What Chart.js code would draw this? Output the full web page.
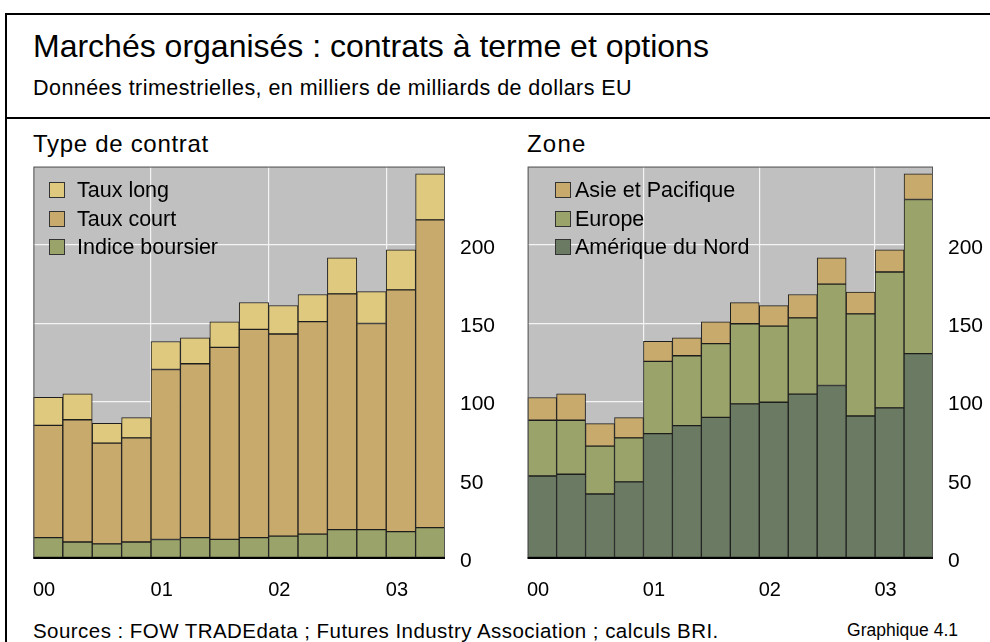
<!DOCTYPE html>
<html>
<head>
<meta charset="utf-8">
<script src="https://cdn.jsdelivr.net/npm/chart.js@4"></script>
<style>
    body { margin: 0; background: #fff; font-family: "Liberation Sans", Arial, sans-serif; color: #000; }
    #page { position: relative; width: 990px; height: 642px; overflow: hidden; }
    .txt { position: absolute; white-space: nowrap; line-height: 1; }
    .ligne { position: absolute; background: #000; }
    canvas { position: absolute; }
    .leg { position: absolute; font-size: 21.5px; line-height: 1; white-space: nowrap; }
    .leg span.box { display: inline-block; width: 14px; height: 14px; border: 1px solid #333; vertical-align: -1px; }
</style>
</head>
<body>
<div id="page">
    <div class="ligne" style="left:5px; top:13px; width:985px; height:2px;"></div>
    <div class="ligne" style="left:5px; top:13px; width:2px; height:629px;"></div>
    <div class="ligne" style="left:5px; top:117px; width:985px; height:2px;"></div>

    <div class="txt" style="left:33px; top:30px; font-size:32px;">Marchés organisés : contrats à terme et options</div>
    <div class="txt" style="left:33px; top:78px; font-size:21.5px; letter-spacing:0.45px;">Données trimestrielles, en milliers de milliards de dollars EU</div>

    <div class="txt" style="left:33px; top:132px; font-size:24px; letter-spacing:0.7px;">Type de contrat</div>
    <div class="txt" style="left:527px; top:132px; font-size:24px; letter-spacing:1.2px;">Zone</div>

    <canvas id="chartType" width="490" height="480"></canvas>
    <canvas id="chartZone" width="490" height="480"></canvas>

    <div id="legType"></div>
    <div id="legZone"></div>

    <div class="txt" style="left:33px; top:621px; font-size:20.5px; letter-spacing:0.45px;">Sources : FOW TRADEdata ; Futures Industry Association ; calculs BRI.</div>
    <div class="txt" style="right:32px; top:622px; font-size:17.5px;">Graphique 4.1</div>
</div>

<script>
// trimestres 2000T1 - 2003T2
const trimestres = ['2000T1', '2000T2', '2000T3', '2000T4', '2001T1', '2001T2', '2001T3', '2001T4',
                    '2002T1', '2002T2', '2002T3', '2002T4', '2003T1', '2003T2'];
const annees = ['00', '01', '02', '03'];
const graduations = [0, 50, 100, 150, 200];

// Type de contrat
const indiceBoursier = [13.0, 10.2, 9.0, 10.2, 11.8, 13.0, 11.9, 13.0, 14.0, 15.3, 18.1, 18.1, 16.8, 19.4];
const tauxCourt = [71.7, 78.1, 64.4, 66.5, 108.6, 111.1, 122.6, 133.0, 129.1, 135.7, 150.6, 131.7, 154.5, 196.6];
const tauxLong = [17.9, 16.5, 12.6, 13.0, 17.9, 16.6, 16.3, 17.2, 18.2, 17.3, 23.1, 20.3, 25.6, 29.4];

// Zone
const ameriqueNord = [52.4, 53.5, 40.9, 48.6, 79.4, 84.6, 89.8, 98.4, 99.5, 104.7, 110.2, 90.7, 95.9, 130.5];
const europe = [35.6, 34.5, 30.6, 28.1, 46.2, 44.6, 47.1, 51.2, 48.6, 48.7, 64.7, 65.2, 86.8, 98.5];
const asiePacifique = [14.5, 16.8, 14.3, 13.0, 12.8, 11.5, 13.9, 13.5, 13.1, 14.9, 16.8, 14.0, 14.2, 16.4];

const couleurs = {
    tauxLong: '#dfc97f',
    tauxCourt: '#c8aa6d',
    indice: '#9aa46a',
    asie: '#c8aa6d',
    europe: '#9aa46a',
    nord: '#6b7b63'
};

// zone de tracé voulue (px dans la page)
const PLOT_TOP = 167;
const PLOT_H = 391;

// fond gris + cadre de la zone de tracé
const cadrePlugin = {
    id: 'cadre',
    beforeDraw(chart) {
        const { ctx, chartArea: a } = chart;
        ctx.save();
        ctx.fillStyle = '#c0c0c0';
        ctx.fillRect(a.left, a.top, a.right - a.left, a.bottom - a.top);
        ctx.restore();
    },
    afterDatasetsDraw(chart) {
        const { ctx, chartArea: a } = chart;
        ctx.save();
        ctx.strokeStyle = '#555';
        ctx.lineWidth = 1;
        ctx.strokeRect(a.left + 0.5, a.top + 0.5, a.right - a.left - 1, a.bottom - a.top);
        ctx.strokeStyle = '#000';
        ctx.lineWidth = 2;
        ctx.beginPath();
        ctx.moveTo(a.left, a.bottom);
        ctx.lineTo(a.right, a.bottom);
        ctx.stroke();
        ctx.restore();
    }
};

function serie(label, data, couleur) {
    return {
        label: label,
        data: data,
        backgroundColor: couleur,
        borderColor: '#1e1e1e',
        borderWidth: 1,
        borderSkipped: false,
        barPercentage: 1,
        categoryPercentage: 1
    };
}

function config(datasets) {
    return {
        type: 'bar',
        data: { labels: trimestres, datasets: datasets },
        options: {
            responsive: false,
            animation: false,
            devicePixelRatio: 1,
            layout: { padding: 0 },
            plugins: { legend: { display: false }, tooltip: { enabled: false } },
            scales: {
                x: {
                    stacked: true,
                    border: { display: false },
                    grid: {
                        offset: true,
                        drawTicks: false,
                        lineWidth: 1.2,
                        color: c => (c.index === 4 || c.index === 8 || c.index === 12) ? '#f4f4f4' : 'rgba(0,0,0,0)'
                    },
                    ticks: {
                        autoSkip: false,
                        maxRotation: 0,
                        padding: 20,
                        labelOffset: -4,
                        color: '#000',
                        font: { family: 'Liberation Sans', size: 20 },
                        callback: (v, i) => i % 4 === 0 ? annees[i / 4] : ''
                    },
                    afterFit: s => { s.height = 50; }
                },
                y: {
                    stacked: true,
                    position: 'right',
                    min: 0,
                    max: 250,
                    border: { display: false },
                    grid: {
                        drawTicks: false,
                        lineWidth: 1.2,
                        color: c => (c.tick.value > 0 && c.tick.value < 250) ? '#f4f4f4' : 'rgba(0,0,0,0)'
                    },
                    ticks: {
                        stepSize: 50,
                        padding: 15,
                        labelOffset: 3,
                        color: '#000',
                        font: { family: 'Liberation Sans', size: 21 },
                        callback: v => graduations.includes(v) ? String(v) : ''
                    },
                    afterFit: s => { s.width = 60; }
                }
            }
        },
        plugins: [cadrePlugin]
    };
}

// premier passage pour lire les marges, puis on recale le canvas
function creerGraphique(id, datasets, plotX, plotW) {
    const canvas = document.getElementById(id);
    let chart = new Chart(canvas, config(datasets));
    const a = chart.chartArea;
    const padL = a.left, padT = a.top;
    const padR = chart.width - a.right, padB = chart.height - a.bottom;
    chart.destroy();
    canvas.width = Math.round(padL + plotW + padR);
    canvas.height = Math.round(padT + PLOT_H + padB);
    canvas.style.left = (plotX - padL) + 'px';
    canvas.style.top = (PLOT_TOP - padT) + 'px';
    return new Chart(canvas, config(datasets));
}

creerGraphique('chartType', [
    serie('Indice boursier', indiceBoursier, couleurs.indice),
    serie('Taux court', tauxCourt, couleurs.tauxCourt),
    serie('Taux long', tauxLong, couleurs.tauxLong)
], 33, 412);

creerGraphique('chartZone', [
    serie('Amérique du Nord', ameriqueNord, couleurs.nord),
    serie('Europe', europe, couleurs.europe),
    serie('Asie et Pacifique', asiePacifique, couleurs.asie)
], 527, 406);

// légendes dans la zone de tracé (ordre inverse de l'empilement)
function legende(id, items, x, xTexte) {
    const el = document.getElementById(id);
    items.forEach((it, i) => {
        const d = document.createElement('div');
        d.className = 'leg';
        d.style.left = x + 'px';
        d.style.top = (180 + i * 28.5) + 'px';
        d.innerHTML = '<span class="box" style="background:' + it[1] + '; margin-right:' + (xTexte - x - 16) + 'px"></span>' + it[0];
        el.appendChild(d);
    });
}

legende('legType', [['Taux long', couleurs.tauxLong], ['Taux court', couleurs.tauxCourt], ['Indice boursier', couleurs.indice]], 49, 77);
legende('legZone', [['Asie et Pacifique', couleurs.asie], ['Europe', couleurs.europe], ['Amérique du Nord', couleurs.nord]], 555, 575);
</script>
</body>
</html>
